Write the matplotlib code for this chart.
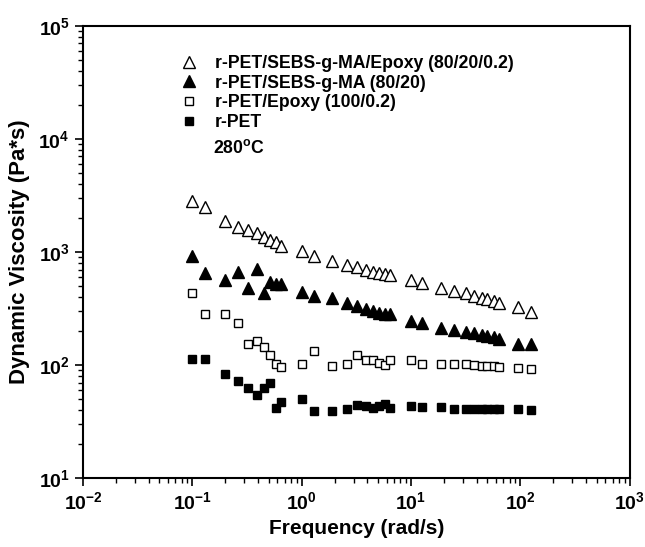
import matplotlib
matplotlib.use("Agg")
import matplotlib.pyplot as plt
from matplotlib.lines import Line2D

plt.rcParams['font.family'] = ['Liberation Sans', 'DejaVu Sans']
plt.rcParams['font.weight'] = 'bold'
plt.rcParams['mathtext.fontset'] = 'custom'
plt.rcParams['mathtext.rm'] = 'Liberation Sans:bold'
plt.rcParams['mathtext.bf'] = 'Liberation Sans:bold'
plt.rcParams['mathtext.it'] = 'Liberation Sans:bold'

# frequency (rad/s)
freq = [0.1, 0.13, 0.2, 0.26, 0.32, 0.39, 0.45, 0.51, 0.58, 0.65,
        1.0, 1.3, 1.9, 2.6, 3.2, 3.9, 4.5, 5.1, 5.8, 6.4,
        10, 12.7, 19, 25, 32, 38, 44.5, 50, 57, 63.5,
        95, 126]

# dynamic viscosity (Pa*s)
pet_sebs_epoxy = [2810, 2510, 1870, 1660, 1550, 1460, 1350, 1270, 1230, 1140,
                  1020, 930, 840, 775, 740, 700, 670, 650, 640, 625,
                  564, 535, 483, 451, 430, 407, 394, 386, 369, 356,
                  328, 294]
pet_sebs = [918, 655, 563, 664, 483, 711, 436, 541, 516, 516,
            446, 408, 394, 351, 332, 310, 300, 290, 280, 280,
            245, 237, 214, 204, 194, 191, 183, 181, 176, 171,
            153, 153]
pet_epoxy = [431, 285, 285, 234, 153, 163, 143, 123, 103, 97,
             103, 132, 98, 103, 123, 111, 111, 104, 101, 111,
             111, 102, 102, 102, 102, 100, 98, 98, 98, 97,
             93.5, 92]
pet = [112, 112, 83, 72, 62, 54, 62, 69, 42, 47.5,
       50, 39, 39, 40.6, 44.4, 43.5, 42, 43.5, 45, 42,
       43.5, 42.7, 42.7, 41.2, 41.2, 41, 41, 41, 41, 41,
       41.2, 40]

labels = ["r-PET/SEBS-g-MA/Epoxy (80/20/0.2)", "r-PET/SEBS-g-MA (80/20)",
          "r-PET/Epoxy (100/0.2)", "r-PET"]


def main():
    fig = plt.figure(figsize=(6.45, 5.47), dpi=100)
    ax = fig.add_subplot(111)
    fig.subplots_adjust(left=0.1287, right=0.976, top=0.9525, bottom=0.1261)

    ax.plot(freq, pet_sebs_epoxy, ls='none', marker='^', ms=8, mfc='white', mec='black', mew=1.0)
    ax.plot(freq, pet_sebs, ls='none', marker='^', ms=8, mfc='black', mec='black', mew=1.0)
    ax.plot(freq, pet_epoxy, ls='none', marker='s', ms=6, mfc='white', mec='black', mew=1.0)
    ax.plot(freq, pet, ls='none', marker='s', ms=6, mfc='black', mec='black', mew=1.0)

    ax.set_xscale('log')
    ax.set_yscale('log')
    ax.set_xlim(1e-2, 1e3)
    ax.set_ylim(1e1, 1e5)

    ax.set_xlabel("Frequency (rad/s)", fontsize=15, fontweight='bold', labelpad=4)
    ax.set_ylabel("Dynamic Viscosity (Pa*s)", fontsize=16, fontweight='bold', labelpad=6)

    for s in ax.spines.values():
        s.set_linewidth(1.5)
    ax.tick_params(which='major', direction='out', length=6, width=1.2, labelsize=14,
                   top=False, right=False)
    ax.tick_params(which='minor', direction='out', length=3.5, width=1.0, top=False, right=False)

    handles = [
        Line2D([], [], ls='none', marker='^', ms=8, mfc='white', mec='black', mew=1.0),
        Line2D([], [], ls='none', marker='^', ms=8, mfc='black', mec='black', mew=1.0),
        Line2D([], [], ls='none', marker='s', ms=6, mfc='white', mec='black', mew=1.0),
        Line2D([], [], ls='none', marker='s', ms=6, mfc='black', mec='black', mew=1.0),
    ]
    ax.legend(handles, labels, loc='upper left', bbox_to_anchor=(0.178, 0.936),
              frameon=False, handlelength=1.0, handletextpad=0.95,
              borderpad=0, borderaxespad=0, labelspacing=0.15,
              prop={'weight': 'bold', 'size': 12.7})
    ax.text(0.238, 0.730, "280$^{\\mathrm{o}}$C", transform=ax.transAxes,
            fontsize=12.7, fontweight='bold', va='center', ha='left')

    fig.savefig("out.png", dpi=100)


if __name__ == "__main__":
    main()
